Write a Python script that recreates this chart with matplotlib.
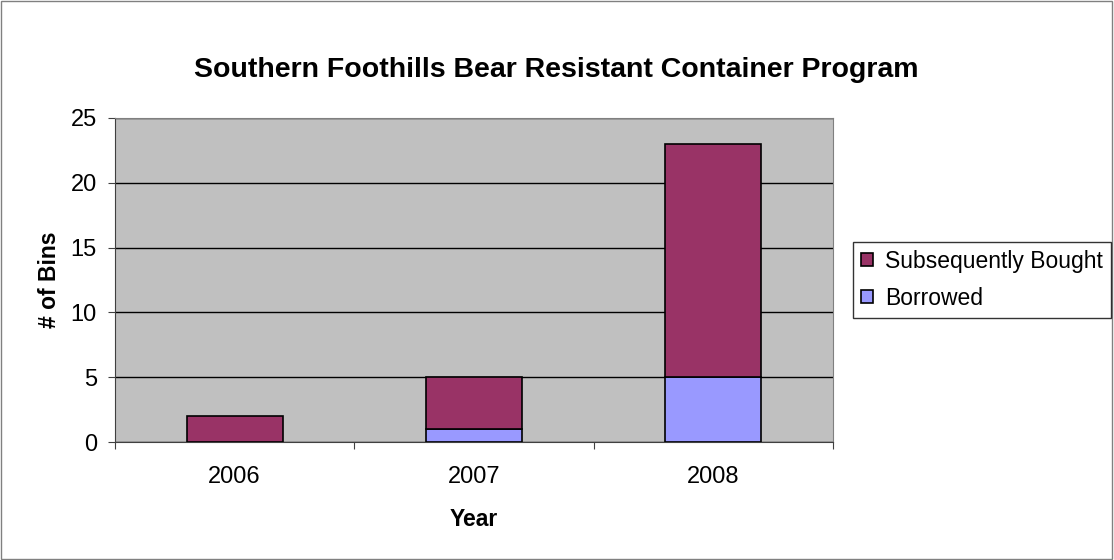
import matplotlib
matplotlib.use("Agg")
from matplotlib import pyplot as plt
from matplotlib.patches import Rectangle
import numpy as np

plt.rcParams['font.family'] = ['Liberation Sans', 'DejaVu Sans']

years = ['2006', '2007', '2008']
borrowed = [0, 1, 5]
bought = [2, 4, 18]

fig = plt.figure(figsize=(11.14, 5.6), dpi=100)
fig.patches.append(Rectangle((0.001, 0.002), 0.997, 0.996, transform=fig.transFigure,
                             fill=False, edgecolor='#808080', linewidth=1))

ax = fig.add_axes([0.1032, 0.2107, 0.6446, 0.5786])
ax.set_facecolor('#C0C0C0')

x = np.arange(len(years))
ax.bar(x, borrowed, width=0.4, color='#9999FF', edgecolor='black', linewidth=1.2,
       label='Borrowed', zorder=3)
ax.bar(x, bought, width=0.4, bottom=borrowed, color='#993366', edgecolor='black',
       linewidth=1.2, label='Subsequently Bought', zorder=3)

ax.set_xlim(-0.5, 2.5)
ax.set_ylim(0, 25)
ax.set_yticks(range(0, 26, 5))
ax.yaxis.grid(True, color='black', linewidth=1)
ax.set_axisbelow(True)

ax.set_xticks([-0.5, 0.5, 1.5, 2.5])
ax.set_xticklabels([])
ax.set_xticks(x, minor=True)
ax.set_xticklabels(years, minor=True)
ax.tick_params(axis='x', which='minor', length=0, pad=17, labelsize=17)
ax.tick_params(axis='x', which='major', length=5, direction='out', color='#404040')
ax.tick_params(axis='y', length=5, direction='out', pad=8, labelsize=17, color='#404040')

for side in ['top', 'right']:
    ax.spines[side].set_color('#808080')
for side in ['left', 'bottom']:
    ax.spines[side].set_color('#404040')

ax.set_xlabel('Year', fontsize=16.5, fontweight='bold', labelpad=15)
ax.set_ylabel('# of Bins', fontsize=16.5, fontweight='bold', labelpad=7)

fig.text(0.4996, 0.875, 'Southern Foothills Bear Resistant Container Program',
         ha='center', va='center', fontsize=20.5, fontweight='bold')

handles, labels = ax.get_legend_handles_labels()
leg = fig.legend(handles[::-1], labels[::-1], loc='upper left',
                 bbox_to_anchor=(0.766, 0.568), fontsize=16.5, frameon=True,
                 fancybox=False, edgecolor='black', handlelength=0.5,
                 handleheight=0.5, handletextpad=0.55, borderpad=0.35,
                 labelspacing=0.6, borderaxespad=0)
leg.get_frame().set_linewidth(1)

fig.savefig('out.png', dpi=100, facecolor='white')
